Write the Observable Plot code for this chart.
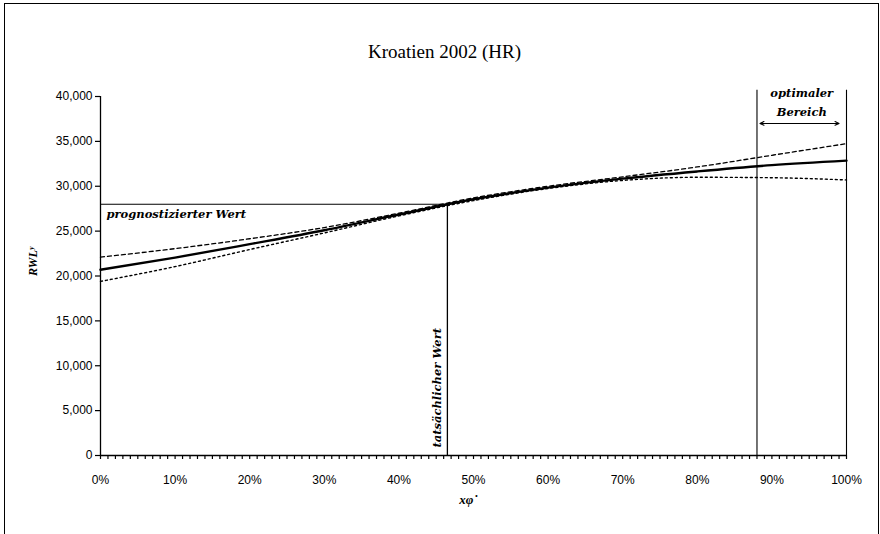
<!DOCTYPE html>
<html>
<head>
<meta charset="utf-8">
<script src="https://cdn.jsdelivr.net/npm/d3@7"></script>
<script src="https://cdn.jsdelivr.net/npm/@observablehq/plot@0.6"></script>
<style>
  html, body { margin: 0; padding: 0; background: #fff; overflow: hidden; }
  #wrap { position: relative; width: 880px; height: 534px; }
  #border { position: absolute; left: 4px; top: 3px; width: 875px; height: 560px; border: 1px solid #000; box-sizing: border-box; pointer-events: none; }
  #chart { position: absolute; left: 0; top: 0; }
</style>
</head>
<body>
<div id="wrap"><div id="chart"></div><div id="border"></div></div>
<script>
// ---- data ----
const title = "Kroatien 2002 (HR)";
const xLabel = "xφ˙";
const yLabel = "RWLʸ";
const shares = [0, 0.1, 0.2, 0.3, 0.4, 0.5, 0.6, 0.7, 0.8, 0.9, 1.0];
const midValues   = [20700, 22050, 23550, 25100, 26850, 28550, 29850, 30850, 31650, 32350, 32850];
const upperValues = [22100, 23050, 24150, 25400, 27000, 28700, 30000, 31050, 32150, 33450, 34750];
const lowerValues = [19400, 21050, 22950, 24800, 26700, 28400, 29750, 30650, 31000, 30950, 30700];
const actualShare = 0.465;
const predictedValue = 28000;
const optimalRange = [0.88, 1.0];
const yTicks = [0, 5000, 10000, 15000, 20000, 25000, 30000, 35000, 40000];
const xTicks = [0, 0.1, 0.2, 0.3, 0.4, 0.5, 0.6, 0.7, 0.8, 0.9, 1.0];
const xMinorTicks = d3.range(0, 101).map(d => d / 100);

const rows = shares.map((s, i) => ({x: s, mid: midValues[i], upper: upperValues[i], lower: lowerValues[i]}));

const serif = "'Liberation Serif', 'Times New Roman', serif";
const annoFont = "'DejaVu Serif', serif";
const sans = "'Liberation Sans', Arial, sans-serif";
const optMid = (optimalRange[0] + optimalRange[1]) / 2;

const chart = Plot.plot({
  width: 880,
  height: 534,
  marginLeft: 100,
  marginRight: 34,
  marginTop: 96,
  marginBottom: 79,
  style: {fontFamily: sans, fontSize: "12px", color: "#000", background: "transparent", overflow: "visible"},
  x: {domain: [0, 1]},
  y: {domain: [0, 40000]},
  marks: [
    // axes
    Plot.axisX({ticks: xMinorTicks, tickSize: 4, tickFormat: () => "", label: null, strokeWidth: 1.2}),
    Plot.axisX({ticks: xTicks, tickSize: 0, tickPadding: 20, tickFormat: d3.format(".0%"), label: null, fontSize: 12}),
    Plot.axisY({ticks: yTicks, tickSize: 5, tickPadding: 3, tickFormat: d3.format(","), label: null, strokeWidth: 1.2, fontSize: 12}),
    Plot.ruleY([0], {strokeWidth: 1.3}),
    Plot.ruleX([0], {strokeWidth: 1.3}),
    // reference lines
    Plot.ruleY([predictedValue], {x1: 0, x2: actualShare, strokeWidth: 1.1}),
    Plot.ruleX([actualShare], {y1: 0, y2: predictedValue, strokeWidth: 1.3}),
    Plot.ruleX(optimalRange, {y1: 0, y2: 40700, strokeWidth: 1.1, clip: false}),
    Plot.arrow([{a: optMid, b: optimalRange[0] + 0.004, v: 37000}],
      {x1: "a", x2: "b", y1: "v", y2: "v", headLength: 6, headAngle: 50, strokeWidth: 1.1}),
    Plot.arrow([{a: optMid, b: optimalRange[1] - 0.01, v: 37000}],
      {x1: "a", x2: "b", y1: "v", y2: "v", headLength: 6, headAngle: 50, strokeWidth: 1.1}),
    // series
    Plot.line(rows, {x: "x", y: "upper", stroke: "#000", strokeWidth: 1.3, strokeDasharray: "4,3", curve: "monotone-x"}),
    Plot.line(rows, {x: "x", y: "lower", stroke: "#000", strokeWidth: 1.4, strokeDasharray: "2,3", curve: "monotone-x"}),
    Plot.line(rows, {x: "x", y: "mid", stroke: "#000", strokeWidth: 2.4, curve: "monotone-x"}),
    // annotations
    Plot.text(["prognostizierter Wert"], {x: 0, y: predictedValue, dx: 6, dy: 10, textAnchor: "start",
      fontFamily: annoFont, fontStyle: "italic", fontWeight: "bold", fontSize: 11.5}),
    Plot.text(["tatsächlicher Wert"], {x: actualShare, y: 0, dx: -10, dy: -8, rotate: -90, textAnchor: "start",
      fontFamily: annoFont, fontStyle: "italic", fontWeight: "bold", fontSize: 11.5}),
    Plot.text(["optimaler"], {x: optMid, y: 40000, dy: -3,
      fontFamily: annoFont, fontStyle: "italic", fontWeight: "bold", fontSize: 11.5}),
    Plot.text(["Bereich"], {x: optMid, y: 40000, dy: 16,
      fontFamily: annoFont, fontStyle: "italic", fontWeight: "bold", fontSize: 11.5}),
    // titles
    Plot.text([title], {frameAnchor: "top", dx: -29, dy: -52, fontFamily: serif, fontSize: 19}),
    Plot.text([yLabel], {frameAnchor: "left", dx: -67, rotate: -90, fontFamily: serif, fontStyle: "italic", fontWeight: "bold", fontSize: 12}),
    Plot.text([xLabel], {frameAnchor: "bottom", dx: -5, dy: 48, fontFamily: serif, fontStyle: "italic", fontWeight: "bold", fontSize: 13})
  ]
});
document.getElementById("chart").appendChild(chart);
</script>
</body>
</html>
